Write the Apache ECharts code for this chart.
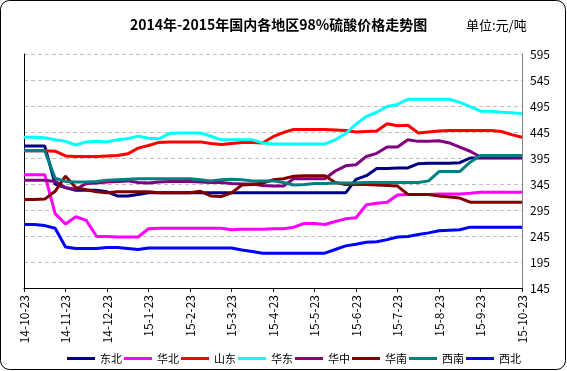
<!DOCTYPE html>
<html><head><meta charset="utf-8">
<script src="https://cdn.jsdelivr.net/npm/echarts@6/dist/echarts.min.js"></script>
<style>html,body{margin:0;padding:0;background:#fff}#c{width:567px;height:371px}</style>
</head><body><div id="c"></div>
<script>
const tickLabels = ['14-10-23','14-11-23','14-12-23','15-1-23','15-2-23','15-3-23','15-4-23','15-5-23','15-6-23','15-7-23','15-8-23','15-9-23','15-10-23'];
const regions = ['东北','华北','山东','华东','华中','华南','西南','西北'];
const colors = ['#000080','#FF00FF','#FF0000','#00FFFF','#800080','#800000','#008080','#0000FF'];
const dongbei = [418,418,418,345,338,333,333,333,330,322,322,325,328,328,328,328,328,328,328,328,328,328,328,328,328,328,328,328,328,328,328,328,354,361,375,375,376,376,384,385,385,385,386,395,395,395,395,395,395];
const huabei = [363,363,363,288,268,282,275,244,244,243,243,243,259,260,260,260,260,260,260,260,257,258,258,258,259,259,262,269,269,267,273,278,280,305,308,310,324,325,325,325,326,326,326,327,329,329,329,329,329];
const shandong = [409,409,409,408,399,398,398,398,399,400,403,414,419,425,426,426,426,426,423,421,423,425,425,424,436,444,450,450,450,450,449,448,445,446,447,461,457,458,443,445,447,448,448,448,448,448,446,440,435];
const huadong = [435,435,434,430,427,420,426,427,426,430,432,437,433,432,442,443,443,443,437,430,430,430,430,424,422,422,422,422,422,422,430,442,460,475,483,494,498,508,508,508,508,508,502,494,485,485,483,482,480];
const huazhong = [352,352,352,350,338,335,346,347,349,350,351,348,347,349,350,350,350,349,348,348,346,345,345,342,341,341,355,355,355,355,370,380,382,398,404,416,416,430,427,427,428,424,416,408,397,397,397,397,396];
const huanan = [315,315,316,331,360,338,334,330,328,330,330,330,330,328,328,328,328,331,322,321,328,343,344,347,353,355,360,361,361,361,348,344,344,344,343,342,341,325,325,325,322,320,318,310,310,310,310,310,310];
const xinan = [409,409,409,356,350,349,349,350,352,353,354,355,355,355,355,355,355,353,351,353,354,353,351,351,351,348,343,344,346,346,347,347,347,348,348,348,348,348,348,351,369,369,369,387,400,400,400,400,400];
const xibei = [267,267,265,260,224,221,221,221,223,223,221,219,222,222,222,222,222,222,222,222,222,218,215,212,212,212,212,212,212,212,219,226,229,233,234,238,243,244,248,251,255,256,257,262,262,262,262,262,262];
const seriesValues = [dongbei, huabei, shandong, huadong, huazhong, huanan, xinan, xibei];
const categories = dongbei.map((_, i) => String(i));

const chart = echarts.init(document.getElementById('c'));
chart.setOption({
  animation: false,
  backgroundColor: '#fff',
  textStyle: { fontFamily: 'Noto Sans CJK SC' },
  title: {
    text: '2014年-2015年国内各地区98%硫酸价格走势图',
    left: 125, top: 13,
    textStyle: { fontSize: 14, fontWeight: 'bold', color: '#000', fontFamily: 'Noto Sans CJK SC' }
  },
  graphic: [
    { type: 'rect', shape: { x: 0.5, y: 0.5, width: 565, height: 369, r: 9 }, style: { fill: 'none', stroke: '#000', lineWidth: 1 }, z: -1 },
    { type: 'text', left: 466, top: 19, style: { text: '单位:元/吨', font: '13px "Noto Sans CJK SC"', fill: '#000' } }
  ],
  legend: {
    data: regions,
    left: 62, top: 348,
    icon: 'rect', itemWidth: 28, itemHeight: 3, itemGap: 2,
    textStyle: { fontSize: 11, color: '#000' }
  },
  grid: { left: 24, top: 54, width: 498, height: 234, containLabel: false },
  xAxis: {
    type: 'category', data: categories, boundaryGap: false,
    axisLine: { lineStyle: { color: '#000', width: 1 } },
    axisTick: { interval: 3, length: 4, lineStyle: { color: '#000' } },
    axisLabel: {
      interval: 3, rotate: 90, fontSize: 12, color: '#000', margin: 7,
      formatter: (v, idx) => (idx % 4 === 0 ? tickLabels[idx / 4] : '')
    },
    splitLine: { show: false }
  },
  yAxis: [
    {
      type: 'value', position: 'right', min: 145, max: 595, interval: 50,
      axisLine: { show: true, lineStyle: { color: '#808080' } },
      axisTick: { show: false },
      axisLabel: { fontSize: 12, color: '#000', margin: 8 },
      splitLine: { show: true, lineStyle: { color: '#c0c0c0', type: [4, 3], width: 1 } }
    },
    {
      type: 'value', position: 'left', min: 145, max: 595, interval: 50,
      axisLine: { show: true, lineStyle: { color: '#000' } },
      axisTick: { show: false }, axisLabel: { show: false }, splitLine: { show: false }
    }
  ],
  series: regions.map((name, k) => ({
    name, type: 'line', data: seriesValues[k], yAxisIndex: 0,
    symbol: 'none', showSymbol: false, smooth: false,
    itemStyle: { color: colors[k] },
    lineStyle: { color: colors[k], width: 3 }
  }))
});
</script></body></html>
